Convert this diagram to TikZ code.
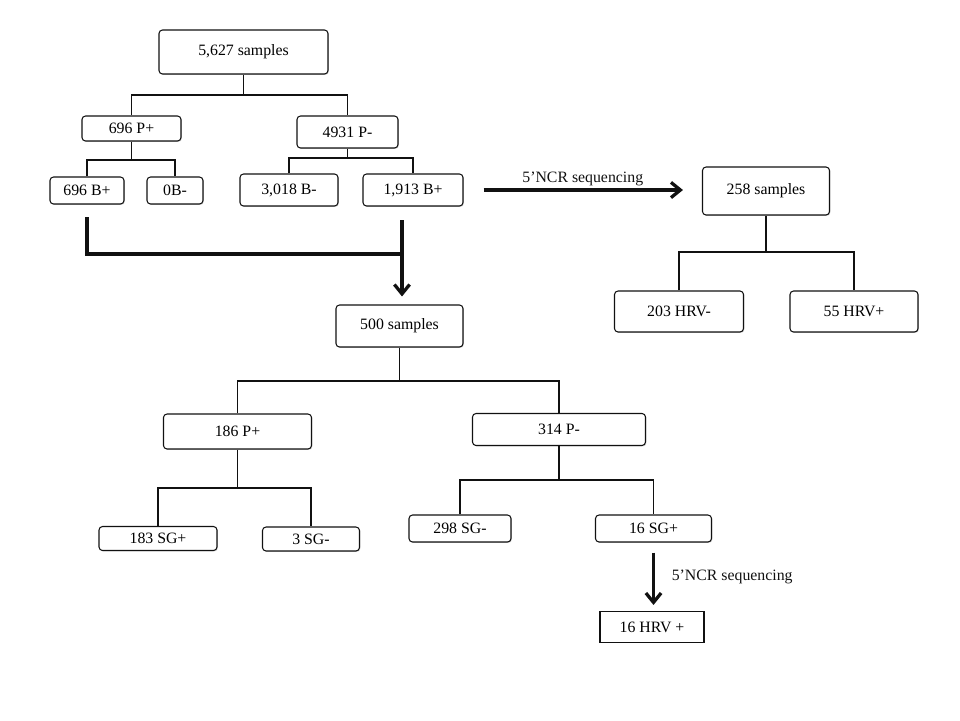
\documentclass[tikz,border=0pt]{standalone}
\usepackage{fontspec}
\setmainfont{Liberation Serif}
\usetikzlibrary{positioning, arrows.meta, calc, shadows}
\definecolor{ink}{HTML}{111111}

\begin{document}
\begin{tikzpicture}[x=0.03cm, y=-0.03cm, font=\fontsize{13.5}{16}\selectfont,
    box/.style={draw=ink, fill=white, rounded corners=3pt, line width=0.9pt, inner sep=0pt,
                drop shadow={shadow xshift=0.8pt, shadow yshift=-0.8pt, opacity=0.3}},
    plainbox/.style={draw=ink, fill=white, line width=0.9pt, inner sep=0pt},
    link/.style={ink, line width=1pt},
    heavy/.style={ink, line width=2.8pt},
    fatarrow/.style={-{Straight Barb[length=8pt,width=13pt]}},
    lbl/.style={inner sep=2pt}]
  \useasboundingbox (0,0) rectangle (960,720);

  % First screening
  \node[box, minimum width=5.07cm, minimum height=1.32cm] (all) at (243.5,52) {5,627 samples};
  \node[box, minimum width=2.97cm, minimum height=0.75cm] (pp1) at (131.5,128.5) {696 P+};
  \node[box, minimum width=3.03cm, minimum height=0.96cm] (pn1) at (347.5,132) {4931 P-};
  \node[box, minimum width=2.22cm, minimum height=0.81cm] (bp1) at (87,190.5) {696 B+};
  \node[box, minimum width=1.68cm, minimum height=0.81cm] (bn1) at (175,190.5) {0B-};
  \node[box, minimum width=2.94cm, minimum height=0.96cm] (bn2) at (289,190) {3,018 B-};
  \node[box, minimum width=3.00cm, minimum height=0.96cm] (bp2) at (413,190) {1,913 B+};

  \coordinate (j0) at (243.5,95);
  \coordinate (j1) at (131.5,160);
  \coordinate (j2) at (347.5,158);
  \draw[link] (all) -- (j0);
  \draw[link] (pp1.north) |- (j0) -| (pn1.north);
  \draw[link] (pp1) -- (j1);
  \draw[link] (bp1.north) |- (j1) -| (bn1.north);
  \draw[link] (pn1) -- (j2);
  \draw[link] (bn2.north) |- (j2) -| (bp2.north);

  % Sequencing of the B+ samples
  \node[box, minimum width=3.81cm, minimum height=1.44cm] (s258) at (766,191) {258 samples};
  \node[box, minimum width=3.87cm, minimum height=1.23cm] (hn) at (679,311.5) {203 HRV-};
  \node[box, minimum width=3.84cm, minimum height=1.23cm] (hp) at (854,311.5) {55 HRV+};
  \draw[heavy, fatarrow, shorten <=0.6cm, shorten >=0.57cm] (bp2.east) -- (bp2.east -| s258.west)
    node[midway, above, lbl] {5’NCR sequencing};
  \coordinate (j3) at (766,252);
  \draw[link] (s258) -- (j3);
  \draw[link] (hn.north) |- (j3) -| (hp.north);

  % Second round
  \node[box, minimum width=3.81cm, minimum height=1.26cm] (s500) at (399.5,326) {500 samples};
  \coordinate (c1) at (87,217);
  \coordinate (c2) at (402,220);
  \coordinate (c3) at (402,254);
  \draw[heavy] (c1) |- (c3);
  \draw[heavy, fatarrow, shorten >=0.24cm] (c2) -- (c2 |- s500.north);

  \node[box, minimum width=4.44cm, minimum height=1.05cm] (pp2) at (237.5,431.5) {186 P+};
  \node[box, minimum width=5.19cm, minimum height=0.96cm] (pn2) at (559,429.5) {314 P-};
  \node[box, minimum width=3.54cm, minimum height=0.72cm] (sgp1) at (158,538.5) {183 SG+};
  \node[box, minimum width=2.91cm, minimum height=0.72cm] (sgn1) at (311,539) {3 SG-};
  \node[box, minimum width=3.06cm, minimum height=0.81cm] (sgn2) at (460,528.5) {298 SG-};
  \node[box, minimum width=3.48cm, minimum height=0.81cm] (sgp2) at (653.5,528.5) {16 SG+};
  \node[plainbox, minimum width=3.12cm, minimum height=0.93cm] (hrv) at (652,627) {16 HRV +};

  \coordinate (j4) at (399.5,381);
  \coordinate (j5) at (237.5,488);
  \coordinate (j6) at (559,480);
  \draw[link] (s500) -- (j4);
  \draw[link] (pp2.north) |- (j4) -| (pn2.north);
  \draw[link] (pp2) -- (j5);
  \draw[link] (sgp1.north) |- (j5) -| (sgn1.north);
  \draw[link] (pn2) -- (j6);
  \draw[link] (sgn2.north) |- (j6) -| (sgp2.north);

  \draw[heavy, fatarrow, shorten <=0.3cm, shorten >=0.18cm] (sgp2.south) -- (sgp2.south |- hrv.north)
    node[midway, anchor=west, inner sep=0pt, xshift=0.5cm] {5’NCR sequencing};
\end{tikzpicture}
\end{document}
